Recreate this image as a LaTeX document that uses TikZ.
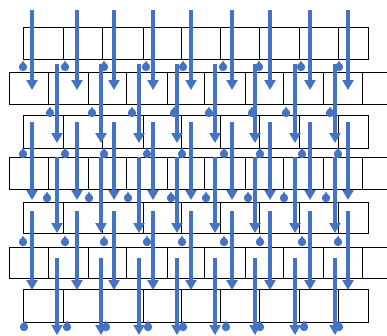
\documentclass[tikz,border=0pt]{standalone}
\usetikzlibrary{arrows.meta}
\definecolor{arrowblue}{HTML}{4472C4}
\tikzset{
  brick/.style={draw=black, line width=0.9pt},
  flow/.style={draw=arrowblue, line width=4pt, -{Triangle[width=11pt,length=10pt]}},
  pin/.style={fill=arrowblue, draw=none},
}
\begin{document}
\begin{tikzpicture}[x=1pt,y=-1pt]
\useasboundingbox (0,0) rectangle (387,335);
\fill[white] (0,0) rectangle (387,335);
% odd rows (narrow, from 23 to 368)
\foreach \r/\ya/\yb in {1/27/59, 3/115/148, 5/202/233, 7/289/322} {
  \draw[brick] (23,\ya) rectangle (368,\yb);
  \foreach \d in {63,102,143,181,220,259,299,338}
    \draw[brick] (\d,\ya) -- (\d,\yb);
}
% even rows (wide, from 9 to the right edge)
\foreach \r/\ya/\yb in {2/72/104, 4/157/189, 6/247/278} {
  \draw[brick] (392,\ya) -| (9,\yb) -- (392,\yb);
  \foreach \d in {48,88,126,167,204,245,283,323,362}
    \draw[brick] (\d,\ya) -- (\d,\yb);
}
% arrows: odd columns
\foreach \ys/\ye [count=\s] in {10/90, 122/200, 211/290} {
  \foreach \x [count=\i] in {32,77,114,153,191,232,270,310,348} {
    \coordinate (a\s-\i-s) at (\x,\ys);
    \coordinate (a\s-\i-e) at (\x,\ye);
    \draw[flow] (a\s-\i-s) -- (a\s-\i-e);
  }
}
% arrows: even columns
\foreach \ys/\ye [count=\s] in {64/143, 157/233, 258/335} {
  \foreach \x [count=\i] in {57,101,139,177,215,255,295,335} {
    \coordinate (b\s-\i-s) at (\x,\ys);
    \coordinate (b\s-\i-e) at (\x,\ye);
    \draw[flow] (b\s-\i-s) -- (b\s-\i-e);
  }
}
% pins
\foreach \y/\xs in {67/{23,65,104,146,183,223,259,301,339},
                    113/{50,92,132,174,209,252,286,330},
                    154/{23,65,104,147,182,224,260,302,338},
                    198/{47,89,128,171,206,248,284,326},
                    242/{23,65,104,147,182,224,260,302,338},
                    327/{24,67,106,148,183,226,260,304,339}} {
  \foreach \x in \xs {
    \fill[pin] (\x,\y) circle (4.2);
    \fill[pin] (\x-2,\y-3) -- (\x,\y-6.5) -- (\x+2,\y-3) -- cycle;
  }
}
\end{tikzpicture}
\end{document}
